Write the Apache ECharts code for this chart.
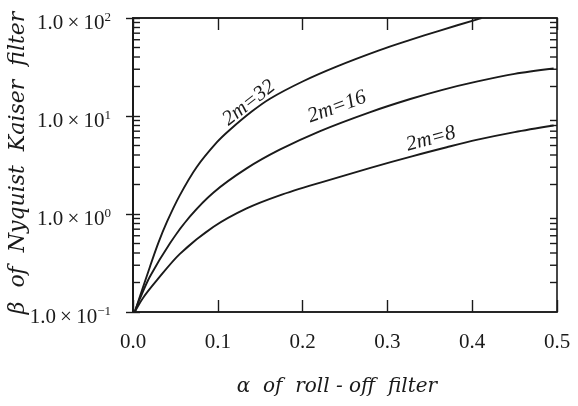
<!DOCTYPE html>
<html>
<head>
<meta charset="utf-8">
<script src="https://cdn.jsdelivr.net/npm/echarts@6/dist/echarts.min.js"></script>
<style>
  html, body { margin: 0; padding: 0; background: #fff; }
  #main { width: 578px; height: 406px; }
</style>
</head>
<body>
<div id="main"></div>
<script>
// curves: alpha (roll-off) -> beta (Kaiser)
const alpha32 = [0.002, 0.02, 0.03, 0.04, 0.055, 0.075, 0.099, 0.114, 0.14, 0.162, 0.2, 0.24, 0.291, 0.327, 0.36, 0.405, 0.411];
const beta32  = [0.1, 0.29, 0.51, 0.83, 1.54, 3.0, 5.4, 7.2, 11.1, 15.1, 22.5, 31.9, 47, 59.7, 73.6, 96.4, 100];

const alpha16 = [0.002, 0.008, 0.02, 0.044, 0.067, 0.095, 0.134, 0.173, 0.22, 0.279, 0.327, 0.365, 0.405, 0.45, 0.496];
const beta16  = [0.1, 0.136, 0.23, 0.51, 0.94, 1.66, 2.92, 4.53, 6.98, 10.9, 14.9, 18.5, 22.4, 26.9, 30.5];

const alpha8 = [0.002, 0.012, 0.028, 0.055, 0.095, 0.134, 0.173, 0.22, 0.28, 0.33, 0.37, 0.405, 0.45, 0.496];
const beta8  = [0.1, 0.14, 0.21, 0.39, 0.74, 1.14, 1.55, 2.08, 2.95, 3.9, 4.8, 5.7, 6.85, 8.0];

const xTicks = [0, 0.1, 0.2, 0.3, 0.4, 0.5];
const yMinorTicks = [0.2, 0.3, 0.4, 0.5, 0.6, 0.7, 0.8, 0.9, 2, 3, 4, 5, 6, 7, 8, 9, 20, 30, 40, 50, 60, 70, 80, 90];

const curveLabels = ['2m=32', '2m=16', '2m=8'];

function pairs(xs, ys) { return xs.map((x, i) => [x, ys[i]]); }

const serif = '"Liberation Serif", "DejaVu Serif", serif';
const ink = '#1a1a1a';

let main = document.getElementById('main');
let myChart = echarts.init(main);

const lineStyle = { color: ink, width: 1.9 };

let option = {
  animation: false,
  grid: { left: 133, right: 21, top: 18, bottom: 94, show: true, borderColor: ink, borderWidth: 1.6 },
  xAxis: [
    {
      type: 'value', min: xTicks[0], max: xTicks[xTicks.length - 1], interval: 0.1,
      axisLine: { show: true, lineStyle: { color: ink, width: 1.6 } },
      axisTick: { show: true, inside: true, length: 12, lineStyle: { color: ink, width: 1.4 } },
      splitLine: { show: false },
      axisLabel: { margin: 20, fontFamily: serif, fontSize: 21, color: ink, formatter: v => v.toFixed(1) }
    },
    {
      type: 'value', position: 'top', min: xTicks[0], max: xTicks[xTicks.length - 1], interval: 0.1,
      axisLine: { show: true, lineStyle: { color: ink, width: 1.6 } },
      axisTick: { show: true, inside: true, length: 12, lineStyle: { color: ink, width: 1.4 } },
      splitLine: { show: false },
      axisLabel: { show: false }
    }
  ],
  yAxis: [
    {
      type: 'log', logBase: 10, min: 0.1, max: 100,
      axisLine: { show: true, lineStyle: { color: ink, width: 1.6 } },
      axisTick: { show: true, inside: true, length: 7, lineStyle: { color: ink, width: 1.4 } },
      splitLine: { show: false },
      axisLabel: {
        margin: 22,
        padding: [10, 0, 0, 0],
        formatter: function (v) {
          const e = Math.round(Math.log10(v));
          return '{b|1.0\u2009\u00d7\u200910}{s|' + (e < 0 ? '\u2212' + (-e) : e) + '}';
        },
        rich: {
          b: { fontFamily: serif, fontSize: 21, color: ink },
          s: { fontFamily: serif, fontSize: 13, color: ink, padding: [0, 0, 10, 0] }
        }
      }
    },
    {
      type: 'log', logBase: 10, min: 0.1, max: 100, position: 'right',
      axisLine: { show: true, lineStyle: { color: ink, width: 1.6 } },
      axisTick: { show: true, inside: true, length: 7, lineStyle: { color: ink, width: 1.4 } },
      splitLine: { show: false },
      axisLabel: { show: false }
    }
  ],
  series: [
    { name: curveLabels[0], type: 'line', data: pairs(alpha32, beta32), smooth: 0.3, showSymbol: false, lineStyle: lineStyle },
    { name: curveLabels[1], type: 'line', data: pairs(alpha16, beta16), smooth: 0.3, showSymbol: false, lineStyle: lineStyle },
    { name: curveLabels[2], type: 'line', data: pairs(alpha8, beta8), smooth: 0.3, showSymbol: false, lineStyle: lineStyle },
    {
      // minor log ticks on left and right edges
      type: 'custom',
      silent: true,
      clip: false,
      data: yMinorTicks.map(v => [v]),
      renderItem: function (params, api) {
        const v = api.value(0);
        const l = api.coord([0, v]);
        const r = api.coord([0.5, v]);
        const st = { stroke: ink, lineWidth: 1.4 };
        return {
          type: 'group',
          children: [
            { type: 'line', shape: { x1: l[0], y1: l[1], x2: l[0] + 7, y2: l[1] }, style: st },
            { type: 'line', shape: { x1: r[0] - 7, y1: r[1], x2: r[0], y2: r[1] }, style: st }
          ]
        };
      }
    }
  ],
  graphic: [
    { type: 'text', x: 249, y: 103, rotation: 38 * Math.PI / 180,
      style: { text: curveLabels[0], font: 'italic 21px ' + serif, fill: ink, align: 'center', verticalAlign: 'middle' } },
    { type: 'text', x: 337, y: 107, rotation: 20 * Math.PI / 180,
      style: { text: curveLabels[1], font: 'italic 21px ' + serif, fill: ink, align: 'center', verticalAlign: 'middle' } },
    { type: 'text', x: 431, y: 139, rotation: 15 * Math.PI / 180,
      style: { text: curveLabels[2], font: 'italic 21px ' + serif, fill: ink, align: 'center', verticalAlign: 'middle' } },
    { type: 'text', x: 337, y: 387,
      style: { text: '\u03b1  of  roll - off  filter', font: 'italic 20px "DejaVu Serif", serif', fill: ink, align: 'center', verticalAlign: 'middle' } },
    { type: 'text', x: 18, y: 163, rotation: Math.PI / 2,
      style: { text: '\u03b2  of  Nyquist  Kaiser  filter', font: 'italic 22px "DejaVu Serif", serif', fill: ink, align: 'center', verticalAlign: 'middle' } }
  ]
};

myChart.setOption(option);
</script>
</body>
</html>
